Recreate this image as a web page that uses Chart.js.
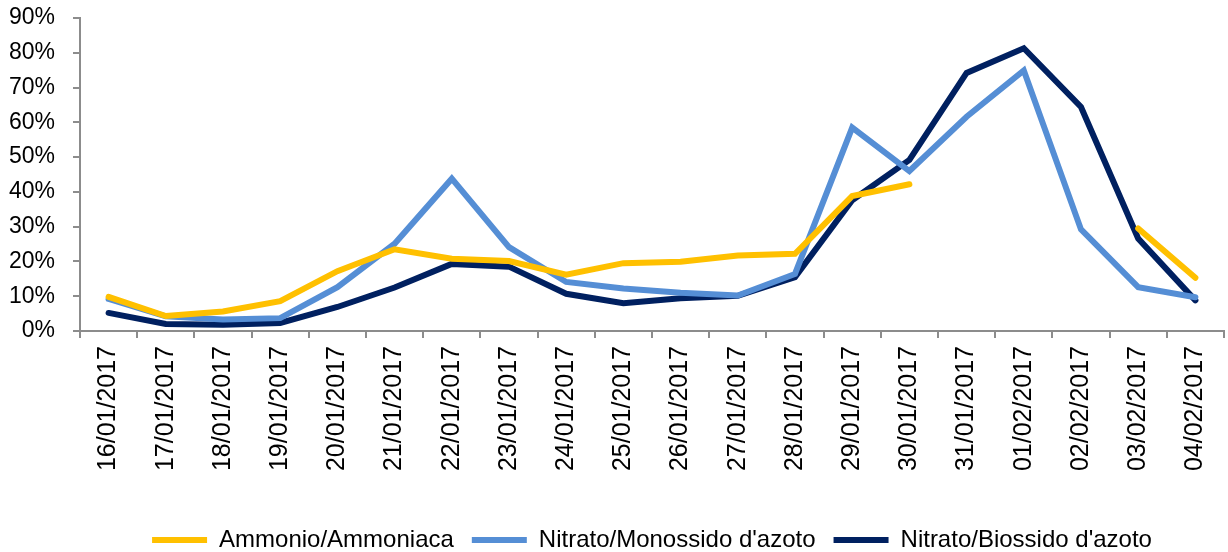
<!DOCTYPE html>
<html>
<head>
<meta charset="utf-8">
<script src="https://cdn.jsdelivr.net/npm/chart.js@4"></script>
<style>
  html, body { margin: 0; padding: 0; background: #fff; }
  #wrap { width: 1228px; height: 552px; }
</style>
</head>
<body>
<div id="wrap"><canvas id="chart" width="1228" height="552"></canvas></div>
<script>
// Chart data
const dates = [
    '16/01/2017', '17/01/2017', '18/01/2017', '19/01/2017', '20/01/2017',
    '21/01/2017', '22/01/2017', '23/01/2017', '24/01/2017', '25/01/2017',
    '26/01/2017', '27/01/2017', '28/01/2017', '29/01/2017', '30/01/2017',
    '31/01/2017', '01/02/2017', '02/02/2017', '03/02/2017', '04/02/2017'
];

const ammonio = [9.8, 4.3, 5.6, 8.6, 17.2, 23.5, 20.8, 20.1, 16.2, 19.5,
    19.9, 21.7, 22.2, 38.8, 42.2, null, null, null, 29.5, 15.3];

const monossido = [9.2, 4.2, 3.3, 3.7, 12.6, 25.1, 43.8, 24.1, 14.1, 12.2,
    11.0, 10.2, 16.4, 58.5, 46.0, 61.6, 74.9, 29.2, 12.6, 9.7];

const biossido = [5.2, 2.0, 1.8, 2.3, 6.9, 12.5, 19.3, 18.5, 10.7, 8.0,
    9.4, 10.1, 15.5, 37.6, 49.2, 74.2, 81.3, 64.4, 26.6, 8.8];

const yTicks = [0, 10, 20, 30, 40, 50, 60, 70, 80, 90];

const axisGrey = '#8c8c8c';
const fontFamily = '"Liberation Sans", Arial, sans-serif';

const makeSeries = (label, data, color) => ({
    label,
    data,
    borderColor: color,
    backgroundColor: color,
    borderWidth: 6,
    borderCapStyle: 'round',
    pointRadius: 0,
    pointHoverRadius: 0,
    tension: 0,
    spanGaps: false
});

const ctx = document.getElementById('chart').getContext('2d');
new Chart(ctx, {
    type: 'line',
    data: {
        labels: dates,
        datasets: [
            makeSeries('Ammonio/Ammoniaca', ammonio, '#ffc000'),
            makeSeries("Nitrato/Monossido d'azoto", monossido, '#558ed5'),
            makeSeries("Nitrato/Biossido d'azoto", biossido, '#002060')
        ]
    },
    options: {
        responsive: false,
        animation: false,
        layout: {
            padding: { top: 18, left: 0, right: 4, bottom: -10 }
        },
        plugins: {
            tooltip: { enabled: false },
            legend: {
                position: 'bottom',
                fullSize: false,
                labels: {
                    usePointStyle: true,
                    pointStyle: 'line',
                    pointStyleWidth: 55,
                    padding: 18,
                    color: '#000',
                    font: { family: fontFamily, size: 24 }
                }
            }
        },
        scales: {
            x: {
                type: 'category',
                offset: true,
                grid: {
                    offset: true,
                    drawOnChartArea: false,
                    tickLength: 7,
                    color: axisGrey,
                    lineWidth: 2
                },
                border: { color: axisGrey, width: 2 },
                ticks: {
                    minRotation: 90,
                    maxRotation: 90,
                    autoSkip: false,
                    padding: 8,
                    color: '#000',
                    font: { family: fontFamily, size: 25 }
                },
                afterFit: (scale) => {
                    scale.height = 179;
                    scale.paddingLeft = 0;
                    scale.paddingRight = 0;
                }
            },
            y: {
                min: yTicks[0],
                max: yTicks[yTicks.length - 1],
                afterBuildTicks: (scale) => {
                    scale.ticks = yTicks.map(v => ({ value: v }));
                },
                grid: {
                    drawOnChartArea: false,
                    tickLength: 7,
                    color: axisGrey,
                    lineWidth: 2
                },
                border: { color: axisGrey, width: 2 },
                ticks: {
                    padding: 18,
                    color: '#000',
                    font: { family: fontFamily, size: 23 },
                    callback: (v) => v + '%'
                },
                afterFit: (scale) => {
                    scale.width = 80;
                    scale.paddingTop = 0;
                    scale.paddingBottom = 0;
                }
            }
        }
    }
});
</script>
</body>
</html>
